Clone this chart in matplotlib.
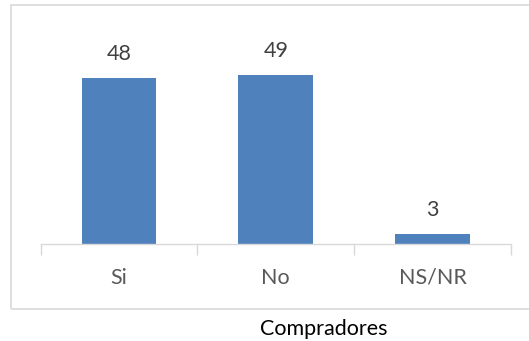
#!/usr/bin/env python3
"""Bar chart of buyers' answers (Si / No / NS/NR), Excel-like styling."""

import matplotlib.pyplot as plt
from matplotlib.patches import Rectangle

categories = ["Si", "No", "NS/NR"]
values = [48, 49, 3]
x_title = "Compradores"

BAR_COLOR = "#4F81BD"
FONT = ["Lato", "DejaVu Sans"]


def main() -> None:
    plt.rcParams["font.family"] = FONT
    fig = plt.figure(figsize=(5.29, 3.41), dpi=100)

    # chart area border (runs off the right edge as in the source)
    fig.patches.append(Rectangle(
        (11 / 529, 1 - 308.5 / 341), 1.2, (308.5 - 5) / 341,
        transform=fig.transFigure, fill=False,
        edgecolor="#D9D9D9", linewidth=1.2, zorder=0,
    ))

    ax = fig.add_axes([40.5 / 529, 1 - 244.3 / 341, (511 - 40.5) / 529, (244.3 - 36.8) / 341])
    pos = range(len(categories))
    bars = ax.bar(pos, values, width=0.476, color=BAR_COLOR, zorder=2)

    ax.set_xlim(-0.5, len(categories) - 0.5)
    ax.set_ylim(0, 60)
    ax.set_yticks([])
    for side in ("left", "right", "top"):
        ax.spines[side].set_visible(False)
    ax.spines["bottom"].set_color("#D9D9D9")
    ax.spines["bottom"].set_linewidth(1.0)

    # category boundaries as ticks, labels centred between them
    ax.set_xticks([i - 0.5 for i in range(len(categories) + 1)])
    ax.set_xticklabels([])
    ax.tick_params(axis="x", length=8, color="#D9D9D9", width=1.0)
    for i, cat in enumerate(categories):
        ax.text(i, -9.7, cat, ha="center", va="center",
                fontsize=15.5, color="#595959")

    for bar, v in zip(bars, values):
        ax.text(bar.get_x() + bar.get_width() / 2, v + 6.9, str(v),
                ha="center", va="center", fontsize=15.5, color="#404040")

    fig.text(324 / 529, 1 - 329 / 341, x_title, ha="center", va="center",
             fontsize=15.5, color="black")

    fig.savefig("out.png", dpi=100)
    plt.close(fig)


if __name__ == "__main__":
    main()
